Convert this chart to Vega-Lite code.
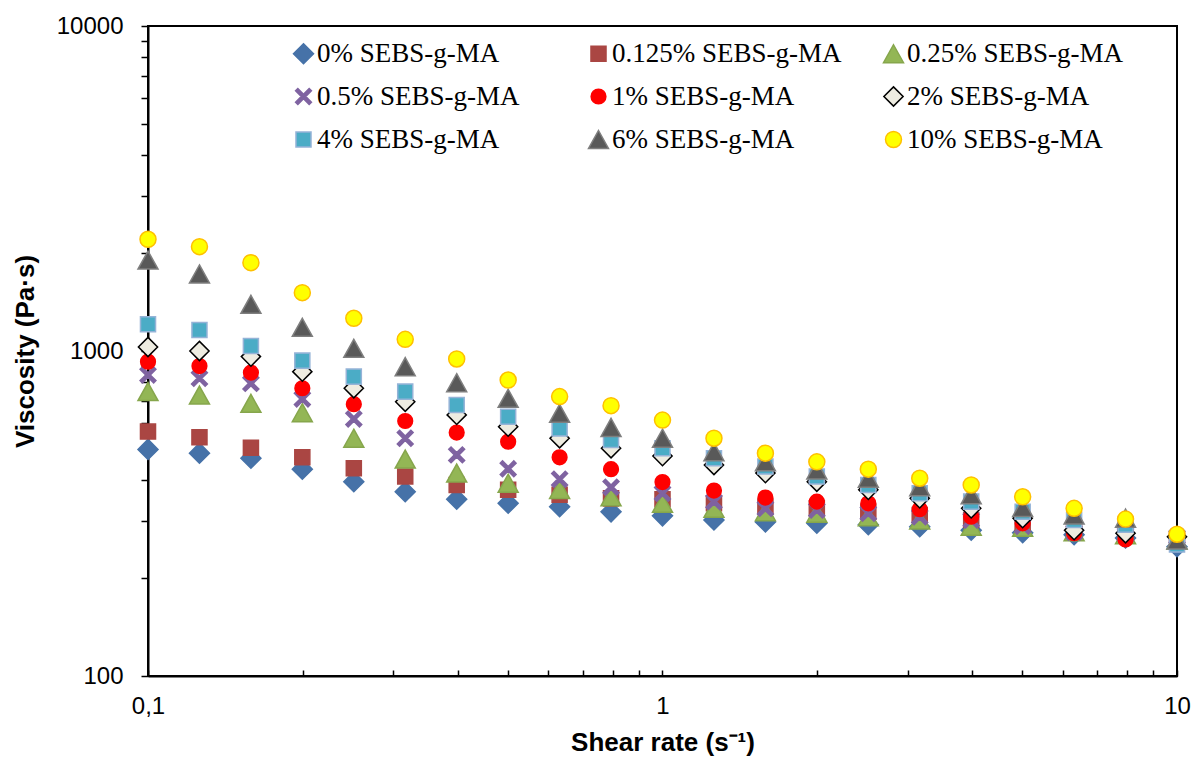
{
  "$schema": "https://vega.github.io/schema/vega-lite/v6.json",
  "width": 1029,
  "height": 650,
  "autosize": {"type": "none"},
  "padding": {"left": 148, "top": 26, "right": 18, "bottom": 86},
  "background": "white",
  "config": {
    "font": "Liberation Sans",
    "view": {"stroke": "black", "strokeWidth": 2},
    "legend": {
      "title": null,
      "orient": "none",
      "direction": "horizontal",
      "legendX": 142,
      "legendY": 14,
      "columns": 3,
      "gridAlign": "all",
      "columnPadding": 38,
      "rowPadding": 15,
      "symbolSize": 256,
      "symbolStrokeWidth": 1.5,
      "labelFont": "Liberation Serif",
      "labelFontSize": 27,
      "labelColor": "black",
      "labelOffset": 0,
      "labelLimit": 400
    }
  },
  "data": {
    "values": [
      {"rate": 0.1, "series": "0% SEBS-g-MA", "viscosity": 498},
      {"rate": 0.1259, "series": "0% SEBS-g-MA", "viscosity": 485},
      {"rate": 0.1585, "series": "0% SEBS-g-MA", "viscosity": 468},
      {"rate": 0.1995, "series": "0% SEBS-g-MA", "viscosity": 433},
      {"rate": 0.2512, "series": "0% SEBS-g-MA", "viscosity": 396},
      {"rate": 0.3162, "series": "0% SEBS-g-MA", "viscosity": 369},
      {"rate": 0.3981, "series": "0% SEBS-g-MA", "viscosity": 350},
      {"rate": 0.5012, "series": "0% SEBS-g-MA", "viscosity": 340},
      {"rate": 0.631, "series": "0% SEBS-g-MA", "viscosity": 332},
      {"rate": 0.7943, "series": "0% SEBS-g-MA", "viscosity": 320},
      {"rate": 1, "series": "0% SEBS-g-MA", "viscosity": 311},
      {"rate": 1.259, "series": "0% SEBS-g-MA", "viscosity": 302},
      {"rate": 1.585, "series": "0% SEBS-g-MA", "viscosity": 298},
      {"rate": 1.995, "series": "0% SEBS-g-MA", "viscosity": 295},
      {"rate": 2.512, "series": "0% SEBS-g-MA", "viscosity": 292},
      {"rate": 3.162, "series": "0% SEBS-g-MA", "viscosity": 288},
      {"rate": 3.981, "series": "0% SEBS-g-MA", "viscosity": 281},
      {"rate": 5.012, "series": "0% SEBS-g-MA", "viscosity": 276},
      {"rate": 6.31, "series": "0% SEBS-g-MA", "viscosity": 272},
      {"rate": 7.943, "series": "0% SEBS-g-MA", "viscosity": 266},
      {"rate": 10, "series": "0% SEBS-g-MA", "viscosity": 250},

      {"rate": 0.1, "series": "0.125% SEBS-g-MA", "viscosity": 565},
      {"rate": 0.1259, "series": "0.125% SEBS-g-MA", "viscosity": 543},
      {"rate": 0.1585, "series": "0.125% SEBS-g-MA", "viscosity": 504},
      {"rate": 0.1995, "series": "0.125% SEBS-g-MA", "viscosity": 471},
      {"rate": 0.2512, "series": "0.125% SEBS-g-MA", "viscosity": 436},
      {"rate": 0.3162, "series": "0.125% SEBS-g-MA", "viscosity": 411},
      {"rate": 0.3981, "series": "0.125% SEBS-g-MA", "viscosity": 387},
      {"rate": 0.5012, "series": "0.125% SEBS-g-MA", "viscosity": 374},
      {"rate": 0.631, "series": "0.125% SEBS-g-MA", "viscosity": 361},
      {"rate": 0.7943, "series": "0.125% SEBS-g-MA", "viscosity": 352},
      {"rate": 1, "series": "0.125% SEBS-g-MA", "viscosity": 350},
      {"rate": 1.259, "series": "0.125% SEBS-g-MA", "viscosity": 340},
      {"rate": 1.585, "series": "0.125% SEBS-g-MA", "viscosity": 332},
      {"rate": 1.995, "series": "0.125% SEBS-g-MA", "viscosity": 328},
      {"rate": 2.512, "series": "0.125% SEBS-g-MA", "viscosity": 320},
      {"rate": 3.162, "series": "0.125% SEBS-g-MA", "viscosity": 313},
      {"rate": 3.981, "series": "0.125% SEBS-g-MA", "viscosity": 302},
      {"rate": 5.012, "series": "0.125% SEBS-g-MA", "viscosity": 289},
      {"rate": 6.31, "series": "0.125% SEBS-g-MA", "viscosity": 278},
      {"rate": 7.943, "series": "0.125% SEBS-g-MA", "viscosity": 272},
      {"rate": 10, "series": "0.125% SEBS-g-MA", "viscosity": 262},

      {"rate": 0.1, "series": "0.25% SEBS-g-MA", "viscosity": 750},
      {"rate": 0.1259, "series": "0.25% SEBS-g-MA", "viscosity": 732},
      {"rate": 0.1585, "series": "0.25% SEBS-g-MA", "viscosity": 690},
      {"rate": 0.1995, "series": "0.25% SEBS-g-MA", "viscosity": 646},
      {"rate": 0.2512, "series": "0.25% SEBS-g-MA", "viscosity": 539},
      {"rate": 0.3162, "series": "0.25% SEBS-g-MA", "viscosity": 465},
      {"rate": 0.3981, "series": "0.25% SEBS-g-MA", "viscosity": 421},
      {"rate": 0.5012, "series": "0.25% SEBS-g-MA", "viscosity": 392},
      {"rate": 0.631, "series": "0.25% SEBS-g-MA", "viscosity": 375},
      {"rate": 0.7943, "series": "0.25% SEBS-g-MA", "viscosity": 356},
      {"rate": 1, "series": "0.25% SEBS-g-MA", "viscosity": 340},
      {"rate": 1.259, "series": "0.25% SEBS-g-MA", "viscosity": 328},
      {"rate": 1.585, "series": "0.25% SEBS-g-MA", "viscosity": 320},
      {"rate": 1.995, "series": "0.25% SEBS-g-MA", "viscosity": 317},
      {"rate": 2.512, "series": "0.25% SEBS-g-MA", "viscosity": 309},
      {"rate": 3.162, "series": "0.25% SEBS-g-MA", "viscosity": 302},
      {"rate": 3.981, "series": "0.25% SEBS-g-MA", "viscosity": 289},
      {"rate": 5.012, "series": "0.25% SEBS-g-MA", "viscosity": 287},
      {"rate": 6.31, "series": "0.25% SEBS-g-MA", "viscosity": 278},
      {"rate": 7.943, "series": "0.25% SEBS-g-MA", "viscosity": 272},
      {"rate": 10, "series": "0.25% SEBS-g-MA", "viscosity": 262},

      {"rate": 0.1, "series": "0.5% SEBS-g-MA", "viscosity": 844},
      {"rate": 0.1259, "series": "0.5% SEBS-g-MA", "viscosity": 824},
      {"rate": 0.1585, "series": "0.5% SEBS-g-MA", "viscosity": 795},
      {"rate": 0.1995, "series": "0.5% SEBS-g-MA", "viscosity": 712},
      {"rate": 0.2512, "series": "0.5% SEBS-g-MA", "viscosity": 618},
      {"rate": 0.3162, "series": "0.5% SEBS-g-MA", "viscosity": 539},
      {"rate": 0.3981, "series": "0.5% SEBS-g-MA", "viscosity": 479},
      {"rate": 0.5012, "series": "0.5% SEBS-g-MA", "viscosity": 434},
      {"rate": 0.631, "series": "0.5% SEBS-g-MA", "viscosity": 403},
      {"rate": 0.7943, "series": "0.5% SEBS-g-MA", "viscosity": 381},
      {"rate": 1, "series": "0.5% SEBS-g-MA", "viscosity": 365},
      {"rate": 1.259, "series": "0.5% SEBS-g-MA", "viscosity": 344},
      {"rate": 1.585, "series": "0.5% SEBS-g-MA", "viscosity": 328},
      {"rate": 1.995, "series": "0.5% SEBS-g-MA", "viscosity": 324},
      {"rate": 2.512, "series": "0.5% SEBS-g-MA", "viscosity": 317},
      {"rate": 3.162, "series": "0.5% SEBS-g-MA", "viscosity": 309},
      {"rate": 3.981, "series": "0.5% SEBS-g-MA", "viscosity": 302},
      {"rate": 5.012, "series": "0.5% SEBS-g-MA", "viscosity": 289},
      {"rate": 6.31, "series": "0.5% SEBS-g-MA", "viscosity": 277},
      {"rate": 7.943, "series": "0.5% SEBS-g-MA", "viscosity": 272},
      {"rate": 10, "series": "0.5% SEBS-g-MA", "viscosity": 268},

      {"rate": 0.1, "series": "1% SEBS-g-MA", "viscosity": 927},
      {"rate": 0.1259, "series": "1% SEBS-g-MA", "viscosity": 899},
      {"rate": 0.1585, "series": "1% SEBS-g-MA", "viscosity": 858},
      {"rate": 0.1995, "series": "1% SEBS-g-MA", "viscosity": 768},
      {"rate": 0.2512, "series": "1% SEBS-g-MA", "viscosity": 686},
      {"rate": 0.3162, "series": "1% SEBS-g-MA", "viscosity": 609},
      {"rate": 0.3981, "series": "1% SEBS-g-MA", "viscosity": 561},
      {"rate": 0.5012, "series": "1% SEBS-g-MA", "viscosity": 526},
      {"rate": 0.631, "series": "1% SEBS-g-MA", "viscosity": 471},
      {"rate": 0.7943, "series": "1% SEBS-g-MA", "viscosity": 433},
      {"rate": 1, "series": "1% SEBS-g-MA", "viscosity": 395},
      {"rate": 1.259, "series": "1% SEBS-g-MA", "viscosity": 372},
      {"rate": 1.585, "series": "1% SEBS-g-MA", "viscosity": 354},
      {"rate": 1.995, "series": "1% SEBS-g-MA", "viscosity": 344},
      {"rate": 2.512, "series": "1% SEBS-g-MA", "viscosity": 340},
      {"rate": 3.162, "series": "1% SEBS-g-MA", "viscosity": 326},
      {"rate": 3.981, "series": "1% SEBS-g-MA", "viscosity": 309},
      {"rate": 5.012, "series": "1% SEBS-g-MA", "viscosity": 295},
      {"rate": 6.31, "series": "1% SEBS-g-MA", "viscosity": 275},
      {"rate": 7.943, "series": "1% SEBS-g-MA", "viscosity": 263},
      {"rate": 10, "series": "1% SEBS-g-MA", "viscosity": 262},

      {"rate": 0.1, "series": "2% SEBS-g-MA", "viscosity": 1029},
      {"rate": 0.1259, "series": "2% SEBS-g-MA", "viscosity": 1000},
      {"rate": 0.1585, "series": "2% SEBS-g-MA", "viscosity": 961},
      {"rate": 0.1995, "series": "2% SEBS-g-MA", "viscosity": 864},
      {"rate": 0.2512, "series": "2% SEBS-g-MA", "viscosity": 768},
      {"rate": 0.3162, "series": "2% SEBS-g-MA", "viscosity": 698},
      {"rate": 0.3981, "series": "2% SEBS-g-MA", "viscosity": 636},
      {"rate": 0.5012, "series": "2% SEBS-g-MA", "viscosity": 585},
      {"rate": 0.631, "series": "2% SEBS-g-MA", "viscosity": 539},
      {"rate": 0.7943, "series": "2% SEBS-g-MA", "viscosity": 502},
      {"rate": 1, "series": "2% SEBS-g-MA", "viscosity": 475},
      {"rate": 1.259, "series": "2% SEBS-g-MA", "viscosity": 446},
      {"rate": 1.585, "series": "2% SEBS-g-MA", "viscosity": 421},
      {"rate": 1.995, "series": "2% SEBS-g-MA", "viscosity": 396},
      {"rate": 2.512, "series": "2% SEBS-g-MA", "viscosity": 374},
      {"rate": 3.162, "series": "2% SEBS-g-MA", "viscosity": 352},
      {"rate": 3.981, "series": "2% SEBS-g-MA", "viscosity": 328},
      {"rate": 5.012, "series": "2% SEBS-g-MA", "viscosity": 306},
      {"rate": 6.31, "series": "2% SEBS-g-MA", "viscosity": 281},
      {"rate": 7.943, "series": "2% SEBS-g-MA", "viscosity": 275},
      {"rate": 10, "series": "2% SEBS-g-MA", "viscosity": 268},

      {"rate": 0.1, "series": "4% SEBS-g-MA", "viscosity": 1208},
      {"rate": 0.1259, "series": "4% SEBS-g-MA", "viscosity": 1160},
      {"rate": 0.1585, "series": "4% SEBS-g-MA", "viscosity": 1036},
      {"rate": 0.1995, "series": "4% SEBS-g-MA", "viscosity": 934},
      {"rate": 0.2512, "series": "4% SEBS-g-MA", "viscosity": 834},
      {"rate": 0.3162, "series": "4% SEBS-g-MA", "viscosity": 750},
      {"rate": 0.3981, "series": "4% SEBS-g-MA", "viscosity": 682},
      {"rate": 0.5012, "series": "4% SEBS-g-MA", "viscosity": 628},
      {"rate": 0.631, "series": "4% SEBS-g-MA", "viscosity": 578},
      {"rate": 0.7943, "series": "4% SEBS-g-MA", "viscosity": 532},
      {"rate": 1, "series": "4% SEBS-g-MA", "viscosity": 502},
      {"rate": 1.259, "series": "4% SEBS-g-MA", "viscosity": 468},
      {"rate": 1.585, "series": "4% SEBS-g-MA", "viscosity": 441},
      {"rate": 1.995, "series": "4% SEBS-g-MA", "viscosity": 411},
      {"rate": 2.512, "series": "4% SEBS-g-MA", "viscosity": 387},
      {"rate": 3.162, "series": "4% SEBS-g-MA", "viscosity": 365},
      {"rate": 3.981, "series": "4% SEBS-g-MA", "viscosity": 344},
      {"rate": 5.012, "series": "4% SEBS-g-MA", "viscosity": 320},
      {"rate": 6.31, "series": "4% SEBS-g-MA", "viscosity": 302},
      {"rate": 7.943, "series": "4% SEBS-g-MA", "viscosity": 292},
      {"rate": 10, "series": "4% SEBS-g-MA", "viscosity": 254},

      {"rate": 0.1, "series": "6% SEBS-g-MA", "viscosity": 1905},
      {"rate": 0.1259, "series": "6% SEBS-g-MA", "viscosity": 1726},
      {"rate": 0.1585, "series": "6% SEBS-g-MA", "viscosity": 1392},
      {"rate": 0.1995, "series": "6% SEBS-g-MA", "viscosity": 1183},
      {"rate": 0.2512, "series": "6% SEBS-g-MA", "viscosity": 1019},
      {"rate": 0.3162, "series": "6% SEBS-g-MA", "viscosity": 895},
      {"rate": 0.3981, "series": "6% SEBS-g-MA", "viscosity": 799},
      {"rate": 0.5012, "series": "6% SEBS-g-MA", "viscosity": 715},
      {"rate": 0.631, "series": "6% SEBS-g-MA", "viscosity": 643},
      {"rate": 0.7943, "series": "6% SEBS-g-MA", "viscosity": 582},
      {"rate": 1, "series": "6% SEBS-g-MA", "viscosity": 539},
      {"rate": 1.259, "series": "6% SEBS-g-MA", "viscosity": 490},
      {"rate": 1.585, "series": "6% SEBS-g-MA", "viscosity": 456},
      {"rate": 1.995, "series": "6% SEBS-g-MA", "viscosity": 430},
      {"rate": 2.512, "series": "6% SEBS-g-MA", "viscosity": 406},
      {"rate": 3.162, "series": "6% SEBS-g-MA", "viscosity": 382},
      {"rate": 3.981, "series": "6% SEBS-g-MA", "viscosity": 361},
      {"rate": 5.012, "series": "6% SEBS-g-MA", "viscosity": 330},
      {"rate": 6.31, "series": "6% SEBS-g-MA", "viscosity": 313},
      {"rate": 7.943, "series": "6% SEBS-g-MA", "viscosity": 306},
      {"rate": 10, "series": "6% SEBS-g-MA", "viscosity": 262},

      {"rate": 0.1, "series": "10% SEBS-g-MA", "viscosity": 2207},
      {"rate": 0.1259, "series": "10% SEBS-g-MA", "viscosity": 2094},
      {"rate": 0.1585, "series": "10% SEBS-g-MA", "viscosity": 1870},
      {"rate": 0.1995, "series": "10% SEBS-g-MA", "viscosity": 1512},
      {"rate": 0.2512, "series": "10% SEBS-g-MA", "viscosity": 1261},
      {"rate": 0.3162, "series": "10% SEBS-g-MA", "viscosity": 1086},
      {"rate": 0.3981, "series": "10% SEBS-g-MA", "viscosity": 945},
      {"rate": 0.5012, "series": "10% SEBS-g-MA", "viscosity": 814},
      {"rate": 0.631, "series": "10% SEBS-g-MA", "viscosity": 724},
      {"rate": 0.7943, "series": "10% SEBS-g-MA", "viscosity": 679},
      {"rate": 1, "series": "10% SEBS-g-MA", "viscosity": 613},
      {"rate": 1.259, "series": "10% SEBS-g-MA", "viscosity": 539},
      {"rate": 1.585, "series": "10% SEBS-g-MA", "viscosity": 485},
      {"rate": 1.995, "series": "10% SEBS-g-MA", "viscosity": 456},
      {"rate": 2.512, "series": "10% SEBS-g-MA", "viscosity": 433},
      {"rate": 3.162, "series": "10% SEBS-g-MA", "viscosity": 406},
      {"rate": 3.981, "series": "10% SEBS-g-MA", "viscosity": 387},
      {"rate": 5.012, "series": "10% SEBS-g-MA", "viscosity": 356},
      {"rate": 6.31, "series": "10% SEBS-g-MA", "viscosity": 328},
      {"rate": 7.943, "series": "10% SEBS-g-MA", "viscosity": 304},
      {"rate": 10, "series": "10% SEBS-g-MA", "viscosity": 273}
    ]
  },
  "mark": {"type": "point", "filled": true, "opacity": 1, "size": 256, "strokeWidth": 1.5},
  "encoding": {
    "x": {
      "field": "rate",
      "type": "quantitative",
      "scale": {"type": "log", "domain": [0.1, 10], "nice": false},
      "axis": {
        "title": "Shear rate (s⁻¹)",
        "titleFont": "Liberation Sans",
        "titleFontSize": 26,
        "titleFontWeight": "bold",
        "titleColor": "black",
        "titlePadding": 11,
        "values": [0.1, 0.2, 0.3, 0.4, 0.5, 0.6, 0.7, 0.8, 0.9, 1, 2, 3, 4, 5, 6, 7, 8, 9, 10],
        "labelExpr": "datum.value == 0.1 ? '0,1' : datum.value == 1 ? '1' : datum.value == 10 ? '10' : ''",
        "labelFont": "Liberation Sans",
        "labelFontSize": 24,
        "labelColor": "black",
        "labelFlush": false,
        "labelOverlap": false,
        "labelPadding": 24,
        "tickSize": -6,
        "tickColor": "black",
        "tickWidth": 1.5,
        "domainColor": "black",
        "domainWidth": 2,
        "grid": false
      }
    },
    "y": {
      "field": "viscosity",
      "type": "quantitative",
      "scale": {"type": "log", "domain": [100, 10000], "nice": false},
      "axis": {
        "title": "Viscosity (Pa·s)",
        "titleFont": "Liberation Sans",
        "titleFontSize": 26,
        "titleFontWeight": "bold",
        "titleColor": "black",
        "titlePadding": 18,
        "values": [100, 200, 300, 400, 500, 600, 700, 800, 900, 1000, 2000, 3000, 4000, 5000, 6000, 7000, 8000, 9000, 10000],
        "format": "d",
        "labelExpr": "datum.value == 100 || datum.value == 1000 || datum.value == 10000 ? datum.label : ''",
        "labelFont": "Liberation Sans",
        "labelFontSize": 24,
        "labelColor": "black",
        "labelOverlap": false,
        "labelPadding": 18,
        "tickSize": 7,
        "tickColor": "black",
        "tickWidth": 1.5,
        "domainColor": "black",
        "domainWidth": 2,
        "grid": false
      }
    },
    "shape": {
      "field": "series",
      "type": "nominal",
      "sort": null,
      "scale": {
        "domain": ["0% SEBS-g-MA", "0.125% SEBS-g-MA", "0.25% SEBS-g-MA", "0.5% SEBS-g-MA", "1% SEBS-g-MA", "2% SEBS-g-MA", "4% SEBS-g-MA", "6% SEBS-g-MA", "10% SEBS-g-MA"],
        "range": [
          "M0,-1.25L1.25,0L0,1.25L-1.25,0Z",
          "M-0.94,-0.94L0.94,-0.94L0.94,0.94L-0.94,0.94Z",
          "M0,-1.125L1.25,1.125L-1.25,1.125Z",
          "M-0.707,0.99L0,0.283L0.707,0.99L0.99,0.707L0.283,0L0.99,-0.707L0.707,-0.99L0,-0.283L-0.707,-0.99L-0.99,-0.707L-0.283,0L-0.99,0.707Z",
          "M0.92,0A0.92,0.92,0,1,1,-0.92,0A0.92,0.92,0,1,1,0.92,0Z",
          "M0,-1.2L1.2,0L0,1.2L-1.2,0Z",
          "M-0.94,-0.94L0.94,-0.94L0.94,0.94L-0.94,0.94Z",
          "M0,-1.125L1.25,1.125L-1.25,1.125Z",
          "M1,0A1,1,0,1,1,-1,0A1,1,0,1,1,1,0Z"
        ]
      }
    },
    "fill": {
      "field": "series",
      "type": "nominal",
      "sort": null,
      "scale": {
        "domain": ["0% SEBS-g-MA", "0.125% SEBS-g-MA", "0.25% SEBS-g-MA", "0.5% SEBS-g-MA", "1% SEBS-g-MA", "2% SEBS-g-MA", "4% SEBS-g-MA", "6% SEBS-g-MA", "10% SEBS-g-MA"],
        "range": ["#4672A8", "#AA4643", "#93B655", "#7F63A1", "#FF0000", "#EEECE1", "#4BACC6", "#595959", "#FFFF00"]
      }
    },
    "stroke": {
      "field": "series",
      "type": "nominal",
      "sort": null,
      "scale": {
        "domain": ["0% SEBS-g-MA", "0.125% SEBS-g-MA", "0.25% SEBS-g-MA", "0.5% SEBS-g-MA", "1% SEBS-g-MA", "2% SEBS-g-MA", "4% SEBS-g-MA", "6% SEBS-g-MA", "10% SEBS-g-MA"],
        "range": ["#4672A8", "#AA4643", "#86A64C", "#7F63A1", "#FF0000", "#000000", "#95B3D7", "#7F7F7F", "#FFC000"]
      }
    }
  }
}
